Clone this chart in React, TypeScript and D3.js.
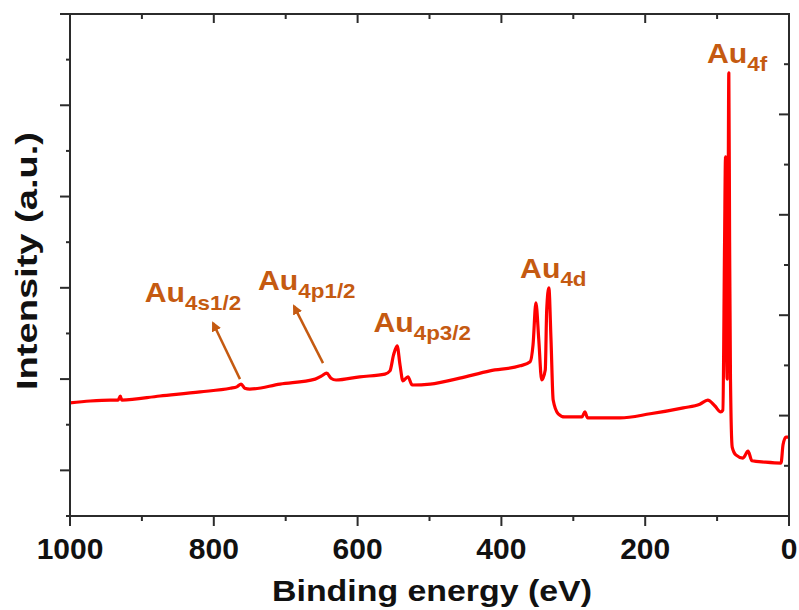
import { useEffect, useRef } from "react"
import * as d3 from "d3"

const energy = [
  1000, 972, 944, 933, 930, 928, 875, 819, 777, 768, 762, 757, 750, 708, 659, 650, 643, 637, 630,
  597, 562, 555, 550, 545, 541, 537, 530, 524, 499, 458, 416, 374, 360, 356, 352, 348, 344, 339,
  337, 334, 331, 328, 321, 312, 288, 284, 280, 235, 193, 147, 124, 113, 103, 95, 92, 89.6, 88.3,
  87.2, 86, 84.8, 83.7, 82.6, 81.4, 79, 74, 64, 57, 51.5, 33.4, 11.1, 8.3, 4.2, 0,
]
// intensity (a.u.) at each energy
const intensity = [
  24.8, 25.2, 25.4, 25.4, 26.3, 25.4, 26.3, 27.2, 28.0, 28.3, 28.9, 28.0, 27.8, 28.9, 30.0, 30.7,
  31.3, 30.2, 29.8, 30.5, 31.1, 31.8, 35.3, 37.3, 33.1, 29.6, 30.5, 28.7, 28.9, 30.2, 31.8, 32.9,
  33.8, 37.5, 46.7, 38.6, 29.8, 32.0, 45.1, 50.0, 38.6, 25.4, 22.4, 21.7, 21.7, 22.8, 21.5, 21.5,
  22.4, 23.7, 24.5, 25.4, 24.1, 22.8, 23.2, 60.0, 78.7, 45.0, 30.0, 60.0, 97.1, 60.0, 30.0, 15.1,
  13.4, 12.7, 14.2, 12.1, 11.8, 11.6, 15.6, 17.3, 17.3,
]

// peak labels: main text, subscript, anchor (energy, intensity)
const peakNames = ["Au", "Au", "Au", "Au", "Au"]
const peakSubs = ["4f", "4d", "4p3/2", "4s1/2", "4p1/2"]
const peakE = [114, 374, 578, 896, 738.5]
const peakI = [99.3, 52.2, 40.3, 46.9, 49.5]

// arrows: from (energy, intensity) to (energy, intensity)
const arrowFromE = [763.6, 648.1]
const arrowFromI = [30.0, 33.5]
const arrowToE = [801.1, 688.5]
const arrowToI = [42.3, 46.0]

const xTicks = [1000, 800, 600, 400, 200, 0]

export default function App() {
  const svgRef = useRef<SVGSVGElement>(null)

  useEffect(() => {
    const svg = d3.select(svgRef.current)
    svg.selectAll("*").remove()

    const width = 799
    const height = 610
    const margin = { left: 70, right: 10, top: 14, bottom: 94 }
    const innerW = width - margin.left - margin.right
    const innerH = height - margin.top - margin.bottom
    const axisColor = "#2b2b2b"
    const labelColor = "#c55a11"

    svg.append("rect").attr("width", width).attr("height", height).attr("fill", "#fff")

    const x = d3.scaleLinear().domain([1000, 0]).range([0, innerW])
    const y = d3.scaleLinear().domain([0, 110]).range([innerH, 0])
    const yRight = d3.scaleLinear().domain([0, 10]).range([innerH, 0])

    const g = svg.append("g").attr("transform", `translate(${margin.left},${margin.top})`)

    // spectrum
    const pts = energy.map((e, i) => [e, intensity[i]] as [number, number])
    const line = d3.line<[number, number]>()
      .x(d => x(d[0]))
      .y(d => y(d[1]))
      .curve(d3.curveMonotoneX)
    g.append("path")
      .attr("d", line(pts))
      .attr("fill", "none")
      .attr("stroke", "#ff0000")
      .attr("stroke-width", 3.2)
      .attr("stroke-linejoin", "round")

    // frame
    g.append("rect")
      .attr("width", innerW).attr("height", innerH)
      .attr("fill", "none").attr("stroke", axisColor).attr("stroke-width", 2)

    // bottom axis
    const bottom = g.append("g").attr("transform", `translate(0,${innerH})`)
    d3.range(0, 1001, 100).forEach(v => {
      const major = v % 200 === 0
      bottom.append("line")
        .attr("x1", x(v)).attr("x2", x(v))
        .attr("y1", 0).attr("y2", major ? 10 : 5)
        .attr("stroke", axisColor).attr("stroke-width", 2)
    })
    xTicks.forEach(v => {
      bottom.append("text")
        .attr("x", x(v)).attr("y", 43)
        .attr("text-anchor", "middle")
        .attr("font-family", "Liberation Sans, Arial, sans-serif")
        .attr("font-weight", "bold").attr("font-size", 30)
        .attr("fill", "#111")
        .text(v)
    })

    // top ticks (inward)
    d3.range(100, 1000, 100).forEach(v => {
      g.append("line")
        .attr("x1", x(v)).attr("x2", x(v))
        .attr("y1", 0).attr("y2", v % 200 === 0 ? 9 : 5)
        .attr("stroke", axisColor).attr("stroke-width", 2)
    })

    // left ticks (outward)
    d3.range(0, 111, 10).forEach((v, i) => {
      g.append("line")
        .attr("x1", i % 2 === 1 ? -10 : -4).attr("x2", 0)
        .attr("y1", y(v)).attr("y2", y(v))
        .attr("stroke", axisColor).attr("stroke-width", 2)
    })

    // right ticks (inward)
    d3.range(1, 10).forEach(v => {
      g.append("line")
        .attr("x1", innerW).attr("x2", innerW - (v % 2 === 0 ? 10 : 5))
        .attr("y1", yRight(v)).attr("y2", yRight(v))
        .attr("stroke", axisColor).attr("stroke-width", 2)
    })

    // axis titles
    svg.append("text")
      .attr("x", 272).attr("y", 601)
      .attr("textLength", 320).attr("lengthAdjust", "spacingAndGlyphs")
      .attr("font-family", "Liberation Sans, Arial, sans-serif")
      .attr("font-weight", "bold").attr("font-size", 30)
      .attr("fill", "#111")
      .text("Binding energy (eV)")

    svg.append("text")
      .attr("transform", "translate(37,390) rotate(-90)")
      .attr("textLength", 258).attr("lengthAdjust", "spacingAndGlyphs")
      .attr("font-family", "Liberation Sans, Arial, sans-serif")
      .attr("font-weight", "bold").attr("font-size", 30)
      .attr("fill", "#111")
      .text("Intensity (a.u.)")

    // arrows
    const defs = svg.append("defs")
    defs.append("marker")
      .attr("id", "arrowhead")
      .attr("viewBox", "0 0 10 10")
      .attr("refX", 8).attr("refY", 5)
      .attr("markerWidth", 4).attr("markerHeight", 4)
      .attr("markerUnits", "strokeWidth")
      .attr("orient", "auto")
      .append("path")
      .attr("d", "M0,0 L10,5 L0,10 Z")
      .attr("fill", labelColor)

    arrowFromE.forEach((e, i) => {
      g.append("line")
        .attr("x1", x(e)).attr("y1", y(arrowFromI[i]))
        .attr("x2", x(arrowToE[i])).attr("y2", y(arrowToI[i]))
        .attr("stroke", labelColor).attr("stroke-width", 2.5)
        .attr("marker-end", "url(#arrowhead)")
    })

    // peak labels (slightly wide lettering, as in the original)
    peakNames.forEach((name, i) => {
      const t = g.append("text")
        .attr("transform", `translate(${x(peakE[i])},${y(peakI[i])}) scale(1.12,1)`)
        .attr("font-family", "Liberation Sans, Arial, sans-serif")
        .attr("font-weight", "bold")
        .attr("font-size", 27)
        .attr("fill", labelColor)
      t.append("tspan").text(name)
      t.append("tspan").attr("dy", 8).attr("font-size", 20).text(peakSubs[i])
    })
  }, [])

  return (
    <svg
      ref={svgRef}
      width={799}
      height={610}
      style={{ position: "absolute", left: 0, top: 0, display: "block" }}
    />
  )
}
